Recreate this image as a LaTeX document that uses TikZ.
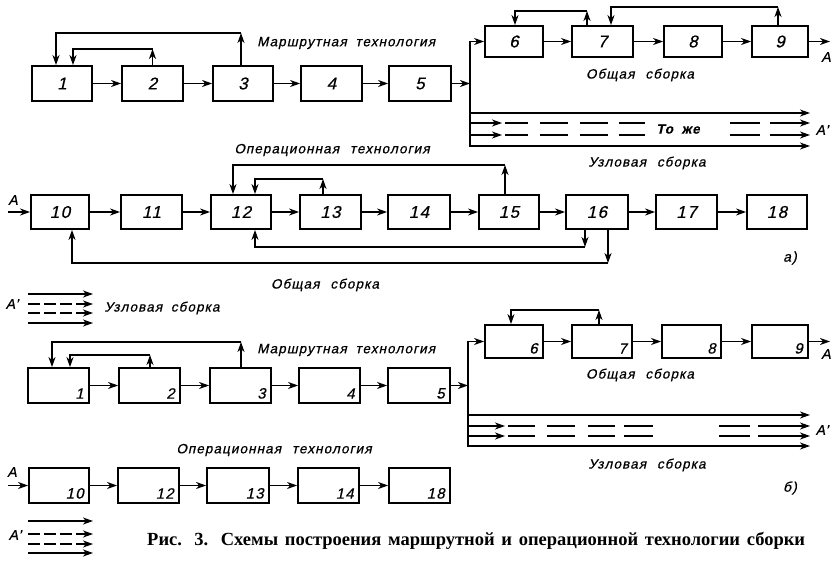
\documentclass[tikz,border=0pt]{standalone}
\usepackage{fontspec}
\setmainfont{Liberation Serif}
\newfontfamily\gost[LetterSpace=8,WordSpace=1.8,FakeSlant=0.22,FakeBold=0.6]{Liberation Sans}
\usetikzlibrary{arrows.meta,calc}
\newcommand\mybox[6]{\node[box,minimum width=#4pt,minimum height=#5pt] (#1) at (#2,#3) {#6};}
\newcommand\myboxr[6]{\node[box,minimum width=#4pt,minimum height=#5pt] (#1) at (#2,#3) {};
  \node[numr,anchor=south east] at ($(#1.south east)+(-6,-5)$) {#6};}
\begin{document}
\begin{tikzpicture}[x=1pt,y=-1pt,
  box/.style={draw,line width=1.8pt,inner sep=0pt,font=\gost\fontsize{17}{18}\selectfont},
  numr/.style={inner sep=0pt,font=\gost\fontsize{15}{16}\selectfont},
  conn/.style={line width=1.5pt,-{Stealth[length=10pt,width=7pt,inset=3pt]}},
  plain/.style={line width=1.5pt},
  lbl/.style={inner sep=0pt,font=\gost\fontsize{13.5}{15}\selectfont},
  ltr/.style={inner sep=0pt,font=\gost\fontsize{14}{15}\selectfont},
  dsh/.style={conn,dash pattern=on 12pt off 4pt}]
\fill[white] (0,0) rectangle (832,561);
\useasboundingbox (0,0) rectangle (832,561);

% ================= section a, row 1 =================
\mybox{a1}{62}{83.5}{60}{35}{1}
\mybox{a2}{152.5}{83.5}{61}{35}{2}
\mybox{a3}{243}{83.5}{60}{35}{3}
\mybox{a4}{331.5}{83.5}{61}{35}{4}
\mybox{a5}{420}{83.5}{62}{35}{5}
\foreach \p/\q in {a1/a2,a2/a3,a3/a4,a4/a5} \draw[conn] (\p) -- (\q);
\draw[conn] (241,0 |- a3.north) -- (241,33);
\draw[conn] (241,33) -- (56,33) -- (56,0 |- a1.north);
\draw[conn] (a2.north) -- (a2.north |- 0,49);
\draw[conn] (a2.north |- 0,49) -- (73,49) -- (73,0 |- a1.north);
\node[lbl,anchor=west] (ma) at (257,43) {Маршрутная технология};

\mybox{a6}{514}{41.5}{58}{31}{6}
\mybox{a7}{602.5}{41.5}{61}{31}{7}
\mybox{a8}{693}{41.5}{58}{31}{8}
\mybox{a9}{780}{41.5}{56}{31}{9}
\foreach \p/\q in {a6/a7,a7/a8,a8/a9} \draw[conn] (\p) -- (\q);
\coordinate (aoutA) at (830,41.5);
\draw[conn] (a9) -- (aoutA);
\node[ltr] at (826,57) {A};
\draw[conn] (587,0 |- a7.north) -- (587,11);
\draw[conn] (587,11) -- (515,11) -- (515,0 |- a6.north);
\draw[conn] (778,0 |- a9.north) -- (778,7);
\draw[conn] (778,7) -- (611,7) -- (611,0 |- a7.north);
\node[lbl] at (640,75) {Общая\hspace{0.8em}сборка};

% bus a
\coordinate (busA) at (470,83.5);
\draw[conn] (a5) -- (busA);
\draw[conn] (470,146) -- (470,41.5) -- (a6);
\draw[conn] (469.25,146) -- (810,146);
\draw[conn] (470,113) -- (810,113);
\foreach \yy in {123,135}{
  \draw[conn] (470,\yy) -- (502,\yy);
  \draw[plain] (505,\yy) -- (528,\yy) (540,\yy) -- (568,\yy) (580,\yy) -- (608,\yy) (619,\yy) -- (645,\yy) (730,\yy) -- (760,\yy);
  \draw[conn] (770,\yy) -- (810,\yy);
}
\node[lbl,font=\gost\bfseries\fontsize{13.5}{15}\selectfont] at (678,129) {То же};
\node[ltr] at (822,130) {A’};
\node[lbl] at (647,163) {Узловая\hspace{0.8em}сборка};

% ================= section a, row 2 =================
\mybox{b10}{60}{212}{58}{34}{10}
\mybox{b11}{151.5}{212}{61}{34}{11}
\mybox{b12}{241}{212}{60}{34}{12}
\mybox{b13}{330.5}{212}{61}{34}{13}
\mybox{b14}{419}{212}{62}{34}{14}
\mybox{b15}{509}{212}{60}{34}{15}
\mybox{b16}{597}{212}{62}{34}{16}
\mybox{b17}{686.5}{212}{61}{34}{17}
\mybox{b18}{777}{212}{60}{34}{18}
\foreach \p/\q in {b10/b11,b11/b12,b12/b13,b13/b14,b14/b15,b15/b16,b16/b17,b17/b18} \draw[conn] (\p) -- (\q);
\coordinate (binA) at (8,212);
\draw[conn] (binA) -- (b10);
\node[ltr] at (13,200) {A};
\draw[conn] (505,0 |- b15.north) -- (505,165);
\draw[conn] (505,165) -- (233,165) -- (233,0 |- b12.north);
\draw[conn] (323,0 |- b13.north) -- (323,179);
\draw[conn] (323,179) -- (255,179) -- (255,0 |- b12.north);
\draw[conn] (585,0 |- b16.south) -- (585,247);
\draw[conn] (585,247) -- (255,247) -- (255,0 |- b12.south);
\draw[conn] (608,0 |- b16.south) -- (608,263);
\draw[conn] (608,263) -- (72,263) -- (72,0 |- b10.south);
\node[lbl] at (332,150) {Операционная\hspace{0.8em}технология};
\node[lbl] at (325,285) {Общая\hspace{0.8em}сборка};
\node[ltr] at (790,258) {а)};

% ================= section b =================
\foreach \yy in {294,323} \draw[conn] (28,\yy) -- (93,\yy);
\foreach \yy in {304,313} \draw[dsh] (28,\yy) -- (93,\yy);
\node[ltr] at (12,304) {A’};
\node[lbl] at (162,308) {Узловая сборка};

\myboxr{c1}{58.5}{385.5}{61}{35}{1}
\myboxr{c2}{149.5}{385.5}{61}{35}{2}
\myboxr{c3}{240.5}{385.5}{61}{35}{3}
\myboxr{c4}{329.5}{385.5}{61}{35}{4}
\myboxr{c5}{419}{385.5}{62}{35}{5}
\foreach \p/\q in {c1/c2,c2/c3,c3/c4,c4/c5} \draw[conn] (\p) -- (\q);
\draw[conn] (241,0 |- c3.north) -- (241,342);
\draw[conn] (241,342) -- (52,342) -- (52,0 |- c1.north);
\draw[conn] (150,0 |- c2.north) -- (150,355);
\draw[conn] (150,355) -- (70,355) -- (70,0 |- c1.north);
\node[lbl,anchor=west] at (257,350) {Маршрутная технология};

\myboxr{c6}{514}{341.5}{58}{33}{6}
\myboxr{c7}{602}{341.5}{60}{33}{7}
\myboxr{c8}{691.5}{341.5}{59}{33}{8}
\myboxr{c9}{780}{341.5}{56}{33}{9}
\foreach \p/\q in {c6/c7,c7/c8,c8/c9} \draw[conn] (\p) -- (\q);
\coordinate (coutA) at (830,341.5);
\draw[conn] (c9) -- (coutA);
\node[ltr] at (826,354) {A};
\draw[conn] (599,0 |- c7.north) -- (599,310);
\draw[conn] (599,310) -- (511,310) -- (511,0 |- c6.north);
\node[lbl] at (640,375) {Общая\hspace{0.8em}сборка};

\coordinate (busB) at (468,385.5);
\draw[conn] (c5) -- (busB);
\draw[conn] (468,446) -- (468,341.5) -- (c6);
\draw[conn] (467.25,446) -- (810,446);
\draw[conn] (468,415) -- (810,415);
\foreach \yy in {426,436}{
  \draw[conn] (468,\yy) -- (505,\yy);
  \draw[plain] (508,\yy) -- (535,\yy) (547,\yy) -- (575,\yy) (588,\yy) -- (615,\yy) (624,\yy) -- (653,\yy) (719,\yy) -- (750,\yy);
  \draw[conn] (758,\yy) -- (810,\yy);
}
\node[ltr] at (822,430) {A’};
\node[lbl] at (647,465) {Узловая\hspace{0.8em}сборка};

\myboxr{d10}{59}{485.5}{60}{35}{10}
\myboxr{d12}{148.5}{485.5}{61}{35}{12}
\myboxr{d13}{238}{485.5}{62}{35}{13}
\myboxr{d14}{328.5}{485.5}{61}{35}{14}
\myboxr{d18}{419.5}{485.5}{61}{35}{18}
\foreach \p/\q in {d10/d12,d12/d13,d13/d14,d14/d18} \draw[conn] (\p) -- (\q);
\coordinate (dinA) at (8,485.5);
\draw[conn] (dinA) -- (d10);
\node[ltr] at (12,472) {A};
\node[lbl] at (274,450) {Операционная\hspace{0.8em}технология};
\node[ltr] at (790,488) {б)};

\foreach \yy in {521,553} \draw[conn] (28,\yy) -- (93,\yy);
\foreach \yy in {534,544} \draw[dsh] (28,\yy) -- (93,\yy);
\node[ltr] at (15,535) {A’};

\node[inner sep=0pt,anchor=west,font=\bfseries\fontsize{18.5}{20}\selectfont] (cap) at (147,541)
  {\makebox[658pt][s]{Рис. 3. Схемы построения маршрутной и операционной технологии сборки}};
\end{tikzpicture}
\end{document}
